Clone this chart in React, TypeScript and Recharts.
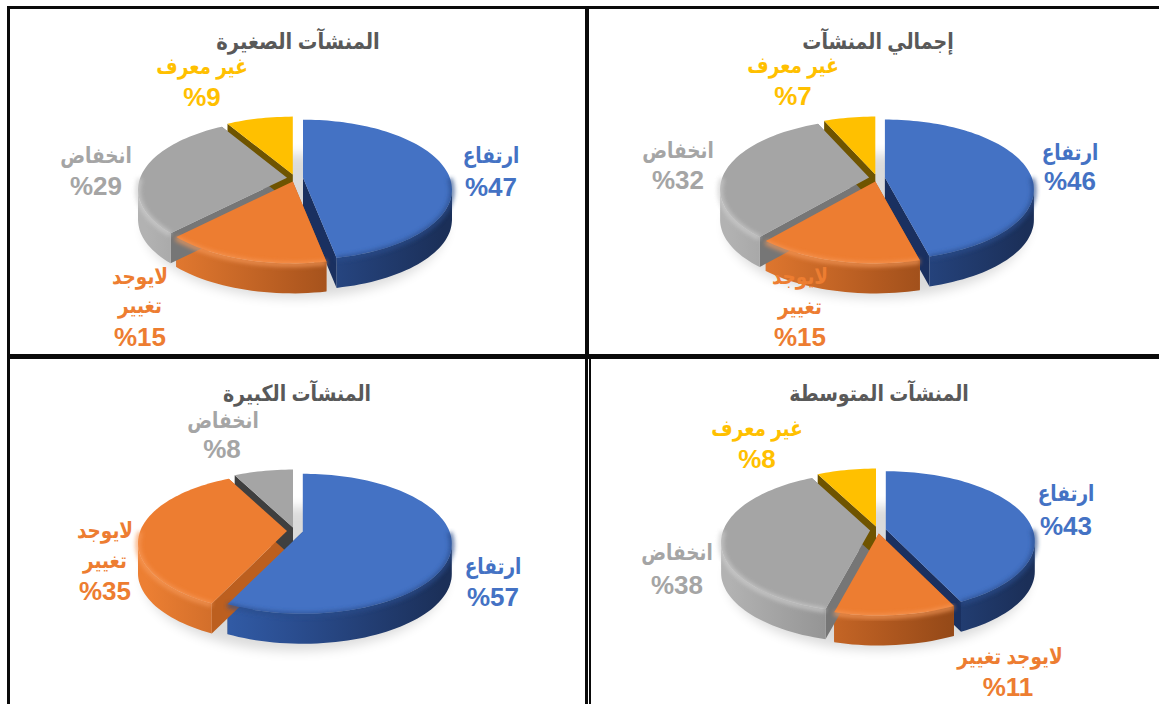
import { Pie, PieChart } from "recharts";

const categories = ["ارتفاع", "لايوجد تغيير", "انخفاض", "غير معرف"];
const largeCategories = ["ارتفاع", "لايوجد تغيير", "انخفاض"];

const totalValues = [46, 15, 32, 7];
const smallValues = [47, 15, 29, 9];
const mediumValues = [43, 11, 38, 8];
const largeValues = [57, 35, 8];

const totalTitle = "إجمالي المنشآت";
const smallTitle = "المنشآت الصغيرة";
const mediumTitle = "المنشآت المتوسطة";
const largeTitle = "المنشآت الكبيرة";

const FONT = '"Liberation Sans", "DejaVu Sans", Arial, sans-serif';
const RX = 149;
const RY = 70;
const APEX_LIFT = 12;
const DEPTH = 30;
const EXPLODE_X = 8;
const EXPLODE_Y = 3.5;
// the back of a tilted pie looks squeezed, so rim angles lean towards 12 o'clock
const PERSPECTIVE = 12;

// top face, then the rim gradient stops and the cut face for each category
const palette: Record<string, { fill: string; rim: string[]; face: string; deepFace: string; lip: string }> = {
  "ارتفاع": { fill: "#4472c4", rim: ["#3a6bc0", "#2a4d8f", "#1b2f58"], face: "#1a3060", deepFace: "#1a3060", lip: "#2b4d8c" },
  "لايوجد تغيير": { fill: "#ed7d31", rim: ["#ec7f33", "#b35a20", "#763810"], face: "#bc5f1f", deepFace: "#bc5f1f", lip: "#f79a5a" },
  "انخفاض": { fill: "#a5a5a5", rim: ["#b2b2b2", "#858585", "#6f6f6f"], face: "#767676", deepFace: "#3f3f3f", lip: "#cdcdcd" },
  "غير معرف": { fill: "#ffc000", rim: ["#ffc000", "#b88a00", "#7a5c00"], face: "#6f5400", deepFace: "#6f5400", lip: "#ffd24d" },
};

const rimPoint = (cx: number, cy: number, theta: number) => {
  const t = (theta * Math.PI) / 180;
  const rad = ((theta - PERSPECTIVE * Math.sin(t)) * Math.PI) / 180;
  return [cx + RX * Math.sin(rad), cy - RY * Math.cos(rad)];
};

const offsetOf = (props: any) => {
  const mid = (((90 - props.startAngle + (90 - props.endAngle)) / 2) * Math.PI) / 180;
  return [EXPLODE_X * Math.sin(mid), -EXPLODE_Y * Math.cos(mid)];
};

const arcPoints = (cx: number, cy: number, from: number, to: number, shift = 0) => {
  const pts: number[][] = [];
  const steps = Math.max(2, Math.ceil(Math.abs(to - from) / 2));
  for (let i = 0; i <= steps; i++) {
    const [x, y] = rimPoint(cx, cy, from + ((to - from) * i) / steps);
    pts.push([x, y + shift]);
  }
  return pts;
};

const toPath = (pts: number[][], close = true) =>
  pts.map((p, i) => `${i ? "L" : "M"}${p[0].toFixed(1)} ${p[1].toFixed(1)}`).join(" ") + (close ? " Z" : "");

function WallShape(props: any) {
  const a = 90 - props.startAngle;
  const b = 90 - props.endAngle;
  const [dx, dy] = offsetOf(props);
  const cx = props.cx + dx;
  const cy = props.cy + dy;
  const apex = [cx, cy - APEX_LIFT];
  const colors = palette[props.name];
  const [ax, ay] = rimPoint(cx, cy, a);
  const [bx, by] = rimPoint(cx, cy, b);
  const from = Math.max(a, 102);
  const to = Math.min(b, 258);
  const band = from < to ? [...arcPoints(cx, cy, from, to), ...arcPoints(cx, cy, to, from, DEPTH)] : null;
  const startFace = [apex, [ax, ay], [ax, ay + DEPTH], [apex[0], apex[1] + DEPTH]];
  const endFace = [apex, [bx, by], [bx, by + DEPTH], [apex[0], apex[1] + DEPTH]];
  return (
    <g>
      <path d={toPath(startFace)} fill={a > 300 ? colors.deepFace : colors.face} />
      <path d={toPath(endFace)} fill={colors.face} />
      {band && <path d={toPath(band)} fill={`url(#${props.panelId}-rim-${props.index})`} />}
    </g>
  );
}

function TopShape(props: any) {
  const a = 90 - props.startAngle;
  const b = 90 - props.endAngle;
  const [dx, dy] = offsetOf(props);
  const cx = props.cx + dx;
  const cy = props.cy + dy;
  const colors = palette[props.name];
  const from = Math.max(a, 92);
  const to = Math.min(b, 268);
  return (
    <g>
      <path d={toPath([[cx, cy - APEX_LIFT], ...arcPoints(cx, cy, a, b)])} fill={colors.fill} />
      {from < to && (
        <path
          d={toPath(arcPoints(cx, cy, from, to, 1), false)}
          fill="none"
          stroke={colors.lip}
          strokeWidth={5}
          opacity={0.75}
          filter={`url(#${props.panelId}-soft)`}
        />
      )}
    </g>
  );
}

type PanelProps = {
  id: string;
  title: string;
  names: string[];
  values: number[];
  left: number;
  top: number;
  width: number;
  height: number;
  centerX: number;
  centerY: number;
  titleX: number;
  titleY: number;
  titleScale: number;
  // page coordinates of each text line, per slice
  spots: number[][][];
};

function Panel(p: PanelProps) {
  const data = p.names.map((name, i) => ({ name, value: p.values[i], fill: palette[name].fill }));
  const cx = p.centerX - p.left;
  const cy = p.centerY - p.top;

  const renderLabel = (props: any) => {
    const spot = p.spots[props.index];
    const name = p.names[props.index];
    const lines = spot.length === 3 ? [...name.split(" "), `%${p.values[props.index]}`] : [name, `%${p.values[props.index]}`];
    const color = palette[name].fill;
    return (
      <g key={name}>
        {lines.map((line, i) => {
          const isPct = i === lines.length - 1;
          const tx = spot[i][0] - p.left;
          const ty = spot[i][1] - p.top;
          return (
            <text
              key={i}
              transform={`translate(${tx} ${ty}) scale(${isPct ? 1 : 0.84} 1)`}
              fill={color}
              textAnchor="middle"
              dominantBaseline="central"
              direction="ltr"
              fontFamily={FONT}
              fontWeight="bold"
              fontSize={isPct ? 26 : 22}
            >
              {line}
            </text>
          );
        })}
      </g>
    );
  };

  return (
    <div style={{ position: "absolute", left: p.left, top: p.top, width: p.width, height: p.height }}>
      <PieChart width={p.width} height={p.height} margin={{ top: 0, right: 0, bottom: 0, left: 0 }}>
        <defs>
          <filter id={`${p.id}-soft`} x="-20%" y="-40%" width="140%" height="180%">
            <feGaussianBlur stdDeviation="2" />
          </filter>
          <filter id={`${p.id}-shadow`} x="-20%" y="-30%" width="140%" height="160%">
            <feGaussianBlur stdDeviation="6" />
          </filter>
          {p.names.map((name, i) => (
            <linearGradient key={name} id={`${p.id}-rim-${i}`} gradientUnits="userSpaceOnUse" x1={cx - RX} x2={cx + RX} y1={0} y2={0}>
              <stop offset="0" stopColor={palette[name].rim[0]} />
              <stop offset="0.5" stopColor={palette[name].rim[1]} />
              <stop offset="1" stopColor={palette[name].rim[2]} />
            </linearGradient>
          ))}
        </defs>
        <ellipse
          cx={cx}
          cy={cy + DEPTH + 6}
          rx={RX + 2}
          ry={RY + 2}
          fill="#000"
          opacity={0.14}
          filter={`url(#${p.id}-shadow)`}
        />
        <Pie
          data={data}
          dataKey="value"
          nameKey="name"
          cx={cx}
          cy={cy}
          outerRadius={RX}
          startAngle={90}
          endAngle={-270}
          stroke="none"
          isAnimationActive={false}
          shape={(props: any) => <WallShape {...props} panelId={p.id} />}
        />
        <Pie
          data={data}
          dataKey="value"
          nameKey="name"
          cx={cx}
          cy={cy}
          outerRadius={RX}
          startAngle={90}
          endAngle={-270}
          stroke="none"
          isAnimationActive={false}
          labelLine={false}
          label={renderLabel}
          shape={(props: any) => <TopShape {...props} panelId={p.id} />}
        />
        <text
          transform={`translate(${p.titleX - p.left} ${p.titleY - p.top}) scale(${p.titleScale} 1)`}
          fill="#595959"
          textAnchor="middle"
          dominantBaseline="central"
          fontFamily={FONT}
          fontWeight="bold"
          fontSize={22}
        >
          {p.title}
        </text>
      </PieChart>
    </div>
  );
}

const frameLines = [
  [7, 6, 1152, 3],
  [7, 6, 3, 698],
  [585, 6, 4, 348],
  [7, 354, 1152, 5],
  [585, 359, 3, 345],
  [589, 359, 2, 345],
];

export default function App() {
  return (
    <div style={{ position: "fixed", left: 0, top: 0, width: 1159, height: 704, background: "#fff", overflow: "hidden" }}>
      <Panel
        id="small"
        title={smallTitle}
        names={categories}
        values={smallValues}
        left={10}
        top={9}
        width={575}
        height={345}
        centerX={295}
        centerY={190}
        titleX={298}
        titleY={41}
        titleScale={0.89}
        spots={[
          [[491, 155], [491, 187]],
          [[140, 276], [140, 305], [140, 337]],
          [[96, 155], [96, 186]],
          [[202, 66], [202, 97]],
        ]}
      />
      <Panel
        id="total"
        title={totalTitle}
        names={categories}
        values={totalValues}
        left={590}
        top={9}
        width={569}
        height={345}
        centerX={877}
        centerY={190}
        titleX={878}
        titleY={41}
        titleScale={0.864}
        spots={[
          [[1070, 152], [1070, 181]],
          [[800, 276], [800, 306], [800, 337]],
          [[678, 150], [678, 180]],
          [[793, 65], [793, 96]],
        ]}
      />
      <Panel
        id="large"
        title={largeTitle}
        names={largeCategories}
        values={largeValues}
        left={10}
        top={359}
        width={575}
        height={345}
        centerX={295}
        centerY={543}
        titleX={297}
        titleY={393}
        titleScale={0.864}
        spots={[
          [[493, 566], [493, 597]],
          [[105, 530], [105, 560], [105, 591]],
          [[223, 420], [222, 449]],
        ]}
      />
      <Panel
        id="medium"
        title={mediumTitle}
        names={categories}
        values={mediumValues}
        left={592}
        top={359}
        width={567}
        height={345}
        centerX={878}
        centerY={542}
        titleX={879}
        titleY={393}
        titleScale={0.864}
        spots={[
          [[1066, 493], [1066, 526]],
          [[1010, 656], [1008, 687]],
          [[677, 552], [677, 585]],
          [[757, 428], [757, 459]],
        ]}
      />
      {frameLines.map(([x, y, w, h], i) => (
        <div key={i} style={{ position: "absolute", left: x, top: y, width: w, height: h, background: "#0a0a0a" }} />
      ))}
    </div>
  );
}
